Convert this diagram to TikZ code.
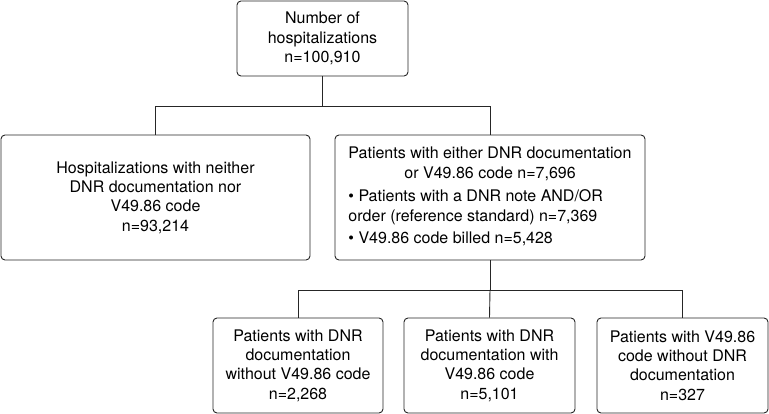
\documentclass[tikz,border=0pt]{standalone}
\usepackage{fontspec}
\setmainfont{TeX Gyre Heros}
\tikzset{
  flowbox/.style={draw=black!85, line width=0.9pt, rounded corners=4pt, align=center,
    inner sep=0pt, font=\fontsize{16}{19.3}\selectfont},
  listbox/.style={flowbox, font=\fontsize{16}{20}\selectfont},
  branch/.style={draw=black!85, line width=0.9pt}
}
\begin{document}
\begin{tikzpicture}[x=1pt, y=-1pt]
\useasboundingbox (0,0) rectangle (769,414);

\coordinate (c0) at (322.5,38.5);
\coordinate (c1) at (155.5,197.5);
\coordinate (c2) at (490,197.5);
\coordinate (c3) at (298,365.5);
\coordinate (c4) at (489.5,365.5);
\coordinate (c5) at (682.5,365.5);
% junctions of the branches
\coordinate (j1) at (322.5,106);
\coordinate (j2) at (490,290);

% the boxes
\node[flowbox, minimum width=171pt, minimum height=75pt] (hosp) at (c0)
  {Number of\\hospitalizations\\n=100,910};
\node[flowbox, minimum width=309pt, minimum height=125pt] (neither) at (c1)
  {Hospitalizations with neither\\DNR documentation nor\\V49.86 code\\n=93,214};
\node[listbox, minimum width=310pt, minimum height=125pt] (either) at (c2)
  {\begin{tabular}{@{}l@{}}
   Patients with either DNR documentation\\
   \hspace*{56pt}or V49.86 code n=7,696\\[3pt]
   \textbullet{} Patients with a DNR note AND/OR\\
   order (reference standard) n=7,369\\[2pt]
   \textbullet{} V49.86 code billed n=5,428
   \end{tabular}};
\node[flowbox, minimum width=170pt, minimum height=95pt] (docnocode) at (c3)
  {Patients with DNR\\documentation\\without V49.86 code\\n=2,268};
\node[flowbox, minimum width=171pt, minimum height=95pt] (doccode) at (c4)
  {Patients with DNR\\documentation with\\V49.86 code\\n=5,101};
\node[flowbox, minimum width=171pt, minimum height=95pt] (codenodoc) at (c5)
  {Patients with V49.86\\code without DNR\\documentation\\n=327};

% the branches
\draw[branch] (hosp.south) -- (j1);
\draw[branch] (j1) -| (neither.north);
\draw[branch] (j1) -| (either.north);
\draw[branch] (either.south) -- (j2);
\draw[branch] (j2) -| (docnocode.north);
\draw[branch] (j2) -- (doccode.north);
\draw[branch] (j2) -| (codenodoc.north);
\end{tikzpicture}
\end{document}
